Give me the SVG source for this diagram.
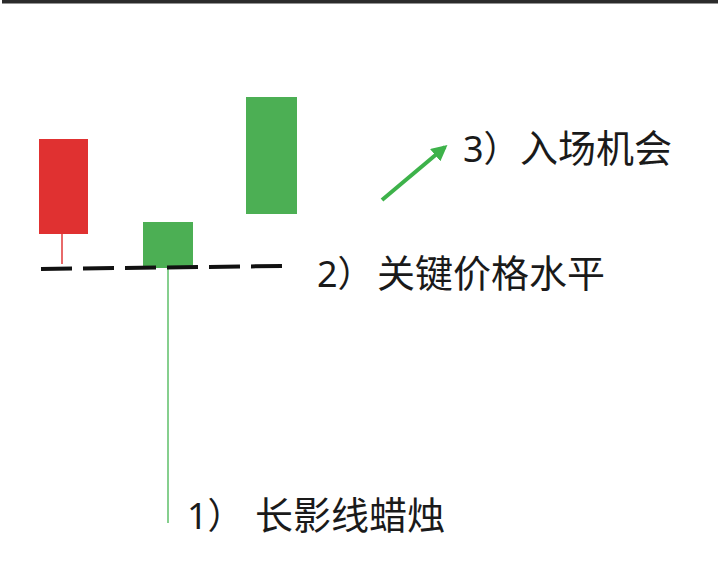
<svg xmlns="http://www.w3.org/2000/svg" width="720" height="577" viewBox="0 0 720 577">
  <defs>
    <style>
      .lbl { font-family: "Noto Sans CJK SC", "Noto Sans", sans-serif; font-size: 38px; fill: #1a1a1a; }
      .num { font-family: "Noto Sans", "Noto Sans CJK SC", sans-serif; font-size: 36px; fill: #1a1a1a; }
      .red { fill: #e03131; }
      .green { fill: #4caf54; }
    </style>
    <marker id="arrowhead" viewBox="0 0 10 10" refX="8" refY="5" markerWidth="4" markerHeight="4" orient="auto" markerUnits="strokeWidth">
      <path d="M0,0 L10,5 L0,10 z" fill="#3db24a"/>
    </marker>
  </defs>
  <rect width="720" height="577" fill="#ffffff"/>
  <rect id="top-bar" x="2" y="0" width="716" height="3.5" fill="#2b2b2b"/>

  <g id="candle-red">
    <line x1="62" y1="234" x2="62" y2="264" stroke="#e86a6a" stroke-width="2"/>
    <rect class="red" x="39" y="139" width="49" height="95"/>
  </g>
  <g id="candle-long-shadow">
    <line x1="168" y1="266" x2="168" y2="523" stroke="#86cf8e" stroke-width="2"/>
    <rect class="green" x="143" y="222" width="50" height="46"/>
  </g>
  <g id="candle-green">
    <rect class="green" x="246" y="97" width="51" height="117"/>
  </g>

  <g id="connectors">
    <line id="key-level" x1="41" y1="269" x2="284" y2="266" stroke="#111111" stroke-width="4" stroke-dasharray="31 11"/>
    <line id="entry-arrow" x1="382" y1="200" x2="445" y2="147" stroke="#3db24a" stroke-width="4" marker-end="url(#arrowhead)"/>
  </g>

  <g id="label-3">
    <text class="num" x="463" y="162">3）</text>
    <text class="lbl" x="520" y="162">入场机会</text>
  </g>
  <g id="label-2">
    <text class="num" x="317" y="287">2）</text>
    <text class="lbl" x="377" y="287">关键价格水平</text>
  </g>
  <g id="label-1">
    <text class="num" x="187" y="529">1）</text>
    <text class="lbl" x="255" y="529">长影线蜡烛</text>
  </g>
</svg>
